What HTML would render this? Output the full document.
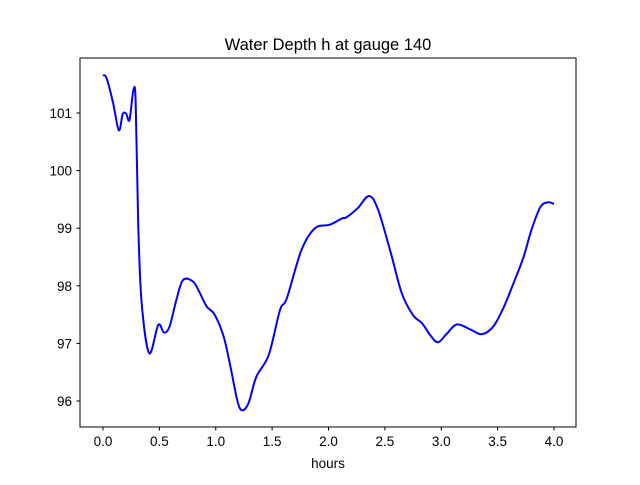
<!DOCTYPE html>
<html><head><meta charset="utf-8"><style>
body{margin:0;background:#fff;font-family:"Liberation Sans",sans-serif}
text{font-family:"Liberation Sans",sans-serif;fill:#000}
</style></head><body>
<svg id="chart" width="640" height="480" viewBox="0 0 640 480" xmlns="http://www.w3.org/2000/svg">
<rect width="640" height="480" fill="#fff"/>
<text x="328" y="50" font-size="16.5" text-anchor="middle">Water Depth h at gauge 140</text>
<g id="ticks"></g>
<path id="series" fill="none" stroke="#0000ff" stroke-width="2" stroke-linejoin="round"/>
<rect x="80" y="58" width="496" height="369" fill="none" stroke="#000" stroke-width="1"/>
<text x="328" y="468" font-size="13.5" text-anchor="middle">hours</text>
</svg>
<script>
const times=[0,0.033,0.09,0.14,0.175,0.205,0.235,0.27,0.29,0.313,0.343,0.41,0.49,0.54,0.59,0.65,0.71,0.80,0.86,0.92,0.99,1.07,1.13,1.19,1.23,1.29,1.36,1.47,1.57,1.63,1.76,1.88,2.01,2.12,2.16,2.26,2.36,2.44,2.55,2.65,2.75,2.83,2.90,2.97,3.05,3.14,3.26,3.36,3.46,3.55,3.64,3.73,3.80,3.88,3.95,4.0];
const depths=[101.66,101.6,101.17,100.70,100.98,100.99,100.88,101.40,101.17,99.03,97.7,96.83,97.32,97.19,97.29,97.75,98.1,98.07,97.87,97.64,97.5,97.12,96.6,96.02,95.84,95.96,96.42,96.8,97.58,97.78,98.62,99.0,99.06,99.17,99.19,99.35,99.56,99.32,98.59,97.87,97.49,97.35,97.15,97.02,97.17,97.33,97.24,97.16,97.29,97.61,98.04,98.5,98.97,99.37,99.45,99.42];
const xTicks=[0,0.5,1,1.5,2,2.5,3,3.5,4];
const xTickLabels=["0.0","0.5","1.0","1.5","2.0","2.5","3.0","3.5","4.0"];
const yTicks=[96,97,98,99,100,101];
const yTickLabels=["96","97","98","99","100","101"];
const X=t=>103+t*112.75;
const Y=v=>113+(101-v)*57.6;
const NS="http://www.w3.org/2000/svg";
const g=document.getElementById('ticks');
function mk(tag,attrs){const e=document.createElementNS(NS,tag);for(const k in attrs)e.setAttribute(k,attrs[k]);g.appendChild(e);return e;}
xTicks.forEach((t,i)=>{
  const l=mk('line',{x1:X(t),x2:X(t),y1:427,y2:430.5,stroke:'#000'});
  
  
  const tx=mk('text',{x:X(t),y:446,'font-size':'13.5','text-anchor':'middle'});
  tx.textContent=xTickLabels[i];
  
  
});
yTicks.forEach((v,i)=>{
  const l=mk('line',{x1:76.5,x2:80,y1:Y(v),y2:Y(v),stroke:'#000'});
  
  
  const tx=mk('text',{x:72,y:Y(v)+5,'font-size':'13.5','text-anchor':'end'});
  tx.textContent=yTickLabels[i];
  
  
});
const pts=times.map((t,i)=>[X(t),Y(depths[i])]);
let d='M'+pts[0][0]+','+pts[0][1];
for(let i=0;i<pts.length-1;i++){
  const p0=pts[Math.max(0,i-1)],p1=pts[i],p2=pts[i+1],p3=pts[Math.min(pts.length-1,i+2)];
  const c1=[p1[0]+(p2[0]-p0[0])/6,p1[1]+(p2[1]-p0[1])/6];
  const c2=[p2[0]-(p3[0]-p1[0])/6,p2[1]-(p3[1]-p1[1])/6];
  d+=` C${c1[0]},${c1[1]} ${c2[0]},${c2[1]} ${p2[0]},${p2[1]}`;
}
document.getElementById('series').setAttribute('d',d);
</script>
</body></html>
